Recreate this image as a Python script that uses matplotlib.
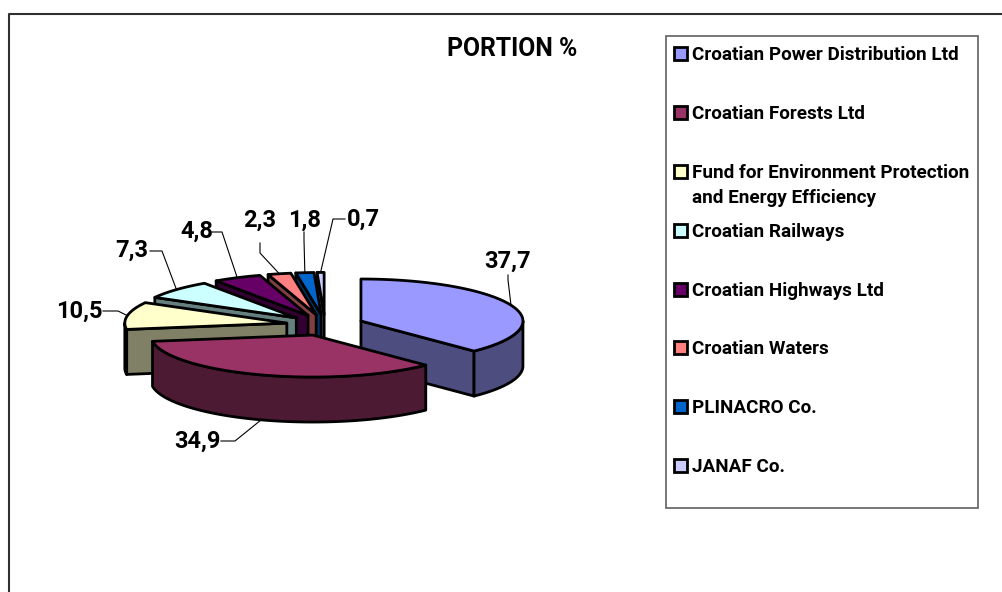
#!/usr/bin/env python3
# -*- coding: utf-8 -*-
import numpy as np
import matplotlib
matplotlib.use('Agg')
import matplotlib.pyplot as plt
from matplotlib.patches import Polygon, Rectangle

plt.rcParams['font.family'] = ['Roboto', 'Liberation Sans', 'DejaVu Sans']

############################## data ##############################
names = ['Croatian Power Distribution Ltd', 'Croatian Forests Ltd',
         'Fund for Environment Protection\nand Energy Efficiency', 'Croatian Railways',
         'Croatian Highways Ltd', 'Croatian Waters', 'PLINACRO Co.', 'JANAF Co.']
values = [37.7, 34.9, 10.5, 7.3, 4.8, 2.3, 1.8, 0.7]
labels = ['37,7', '34,9', '10,5', '7,3', '4,8', '2,3', '1,8', '0,7']
colors = ['#9999FF', '#993366', '#FFFFCC', '#CCFFFF', '#660066', '#FF8080', '#0066CC', '#CCCCFF']
dark = ['#4D4D80', '#4D1A33', '#808066', '#668080', '#330033', '#804040', '#003366', '#666680']

############################## layout (pixels) ##############################
W, H = 1003, 592
CX, CY = 325, 325     # pie centre
A, B = 162, 42        # ellipse radii
DEPTH = 45
EXPLODE_X, EXPLODE_Y = 38.8, 10.6
legend_y = [53, 112, 171, 230, 289, 347, 406, 465]
label_xy = [(508, 261), (197, 441), (79, 311), (132, 250), (197, 231), (260, 220), (305, 220), (363, 219)]
# leader line: start next to the text, elbow, then on to the slice
lead_start = [(508, 275), (221, 441), (103, 311), (150, 251), (212, 232), (260, 243), (304, 232), (345, 219)]
lead_elbow = [(508, 280), (235, 441), (118, 311), (162, 251), (222, 232), (260, 253), (304, 240), (333, 219)]

fig = plt.figure(figsize=(W/100, H/100), dpi=100)
ax = fig.add_axes([0, 0, 1, 1])
ax.set_xlim(0, W)
ax.set_ylim(H, 0)
ax.axis('off')


def rim(theta, ox, oy):
    return ox + A*np.sin(theta), oy - B*np.cos(theta)


edges = np.radians(np.cumsum([0] + values)*3.6)
slices = []
for n in range(len(values)):
    t0, t1 = edges[n], edges[n+1]
    mid = (t0+t1)/2
    ox = CX + EXPLODE_X*np.sin(mid)
    oy = CY - EXPLODE_Y*np.cos(mid)
    slices.append((n, t0, t1, mid, ox, oy))

# back slices first, the big front ones last
lw = 2.0
for n, t0, t1, mid, ox, oy in [slices[i] for i in [7, 6, 5, 4, 3, 2, 0, 1]]:
    th = np.linspace(t0, t1, 80)
    x, y = rim(th, ox, oy)
    # cut faces, only those turned to the viewer
    faces = []
    if t1 < np.pi:
        faces.append(t1)
    if t0 > np.pi:
        faces.append(t0)
    for t in faces:
        ex, ey = rim(t, ox, oy)
        ax.add_patch(Polygon([(ox, oy), (ex, ey), (ex, ey+DEPTH), (ox, oy+DEPTH)], closed=True,
                             fc=dark[n], ec='black', lw=lw, joinstyle='round'))
    # outer wall
    lo, hi = max(t0, np.pi/2), min(t1, 3*np.pi/2)
    if hi > lo:
        tw = np.linspace(lo, hi, 60)
        wx, wy = rim(tw, ox, oy)
        pts = np.r_[np.c_[wx, wy], np.c_[wx, wy+DEPTH][::-1]]
        ax.add_patch(Polygon(pts, closed=True, fc=dark[n], ec='black', lw=lw, joinstyle='round'))
    pts = np.r_[[(ox, oy)], np.c_[x, y]]
    ax.add_patch(Polygon(pts, closed=True, fc=colors[n], ec='black', lw=lw, joinstyle='round'))

# data labels with leader lines
for n, t0, t1, mid, ox, oy in slices:
    ex, ey = rim(mid, ox, oy)
    if n == 1:
        ey = ey + DEPTH   # front slice: the line ends under the wall
    ax.plot([lead_start[n][0], lead_elbow[n][0], ex], [lead_start[n][1], lead_elbow[n][1], ey],
            color='black', lw=0.8, zorder=5)
    ax.text(label_xy[n][0], label_xy[n][1], labels[n], fontsize=17, fontweight='bold',
            ha='center', va='center', zorder=6)

# title
ax.text(512, 49, 'PORTION %', fontsize=17.8, fontweight='bold', ha='center', va='center')

# chart frame and legend box
ax.plot([9, 9, W], [H, 14, 14], color='#303030', lw=1.5)
ax.add_patch(Rectangle((666, 36), 312, 472, fc='white', ec='#606060', lw=1.2))
for n, name in enumerate(names):
    ax.add_patch(Rectangle((674, legend_y[n]-6.5), 13, 13, fc=colors[n], ec='black', lw=2.0))
    for k, line in enumerate(name.split('\n')):
        ax.text(692, legend_y[n]+7+25*k, line, fontsize=13.6, fontweight='bold', ha='left', va='baseline')

fig.savefig('out.png', dpi=100)
